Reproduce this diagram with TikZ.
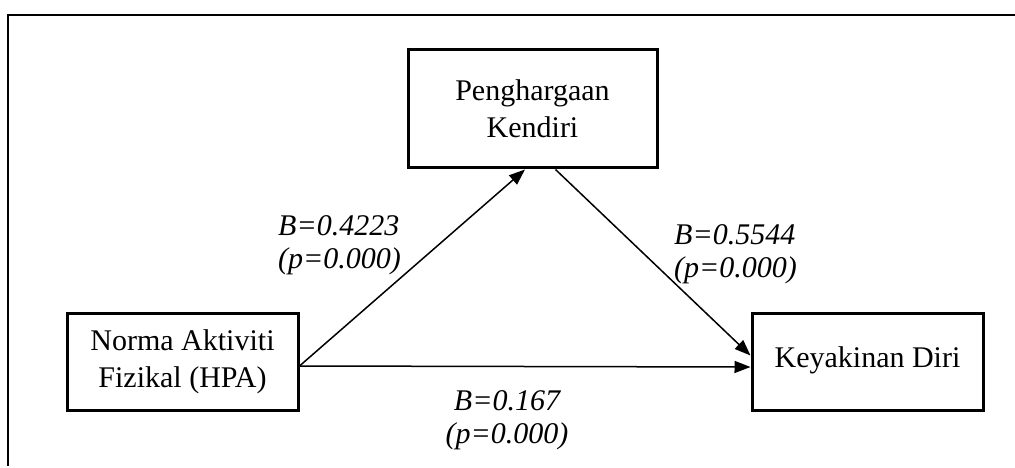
\documentclass[tikz,border=0pt]{standalone}
\usepackage{fontspec}
\setmainfont{Liberation Serif}
\usetikzlibrary{arrows.meta,calc}

\begin{document}
\begin{tikzpicture}[x=1pt,y=-1pt,
  varbox/.style={draw,line width=3pt,inner sep=0pt,align=center,
    font=\fontsize{30}{37}\selectfont},
  path/.style={line width=1.5pt,
    -{Triangle[length=16pt,width=12pt]}},
  coef/.style={font=\fontsize{30}{33}\selectfont\itshape,inner sep=0pt}]

  % page size and the open frame (top and left rules only)
  \useasboundingbox (0,0) rectangle (1015,468);
  \draw[line width=1.5pt] (8,15) -- (1015,15);
  \draw[line width=2.5pt] (8,14.5) -- (8,466);

  % variables
  \node[varbox,minimum width=249pt,minimum height=118pt] (pk) at (532.5,109)
    {Penghargaan\\Kendiri};
  \node[varbox,minimum width=231pt,minimum height=97pt] (hpa) at (182.5,361.5)
    {Norma Aktiviti\\Fizikal (HPA)};
  \node[varbox,minimum width=231pt,minimum height=97pt] (kd) at (867.5,361.5)
    {\raisebox{8pt}{Keyakinan Diri}};

  % connector end points on the box edges
  \coordinate (src) at ([yshift=-4.5pt]hpa.east);
  \coordinate (pkin) at ([xshift=-7.5pt]pk.south);
  \coordinate (pkout) at ([xshift=23pt]pk.south);
  \coordinate (kdin1) at ([yshift=6pt]kd.west);
  \coordinate (kdin2) at ([yshift=-5.5pt]kd.west);

  \draw[path] (src) -- (pkin);
  \draw[path] (pkout) -- (kdin1);
  \draw[path] (src) -- (kdin2);

  % path coefficients
  \node[coef,align=left,anchor=west] (c1) at (278,245) {B=0.4223\\(p=0.000)};
  \node[coef,align=left,anchor=west] (c2) at (674,254) {B=0.5544\\(p=0.000)};
  \node[coef,align=center] (c3) at (507,420) {B=0.167\\(p=0.000)};
\end{tikzpicture}
\end{document}
